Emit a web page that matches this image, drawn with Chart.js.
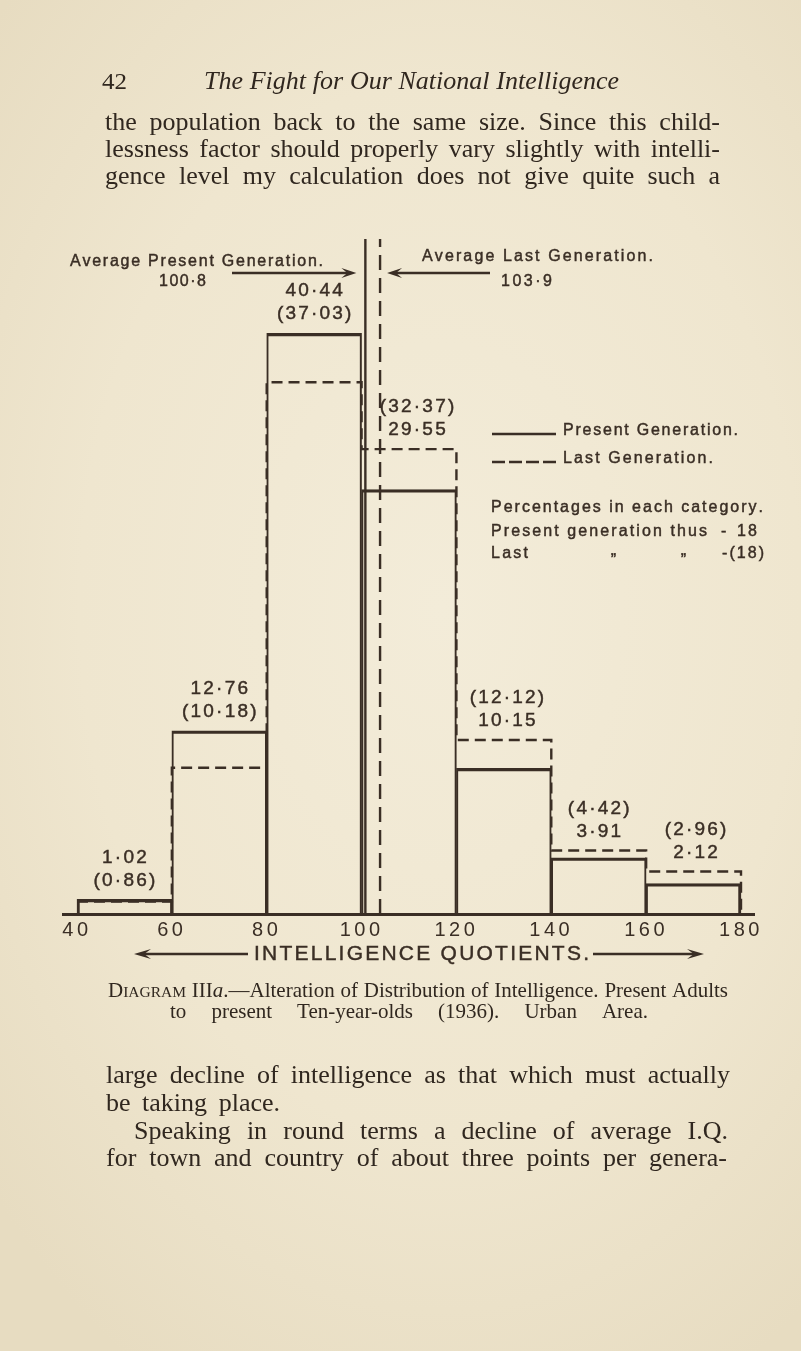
<!DOCTYPE html>
<html><head><meta charset="utf-8">
<script src="https://cdn.jsdelivr.net/npm/chart.js@4.4.1/dist/chart.umd.min.js"></script>
<style>
html,body{margin:0;padding:0;width:801px;height:1351px;overflow:hidden;}
body{background: radial-gradient(ellipse 75% 65% at 55% 45%, #f3ecd9 0%, #efe6cf 60%, #e7dcc1 100%);}
canvas{display:block;}
</style></head><body>
<canvas id="c" width="801" height="1351"></canvas>
<script>
// ---- data ----
const iqBins = [40, 60, 80, 100, 120, 140, 160, 180];          // class edges / tick labels
const presentGeneration = [1.02, 12.76, 40.44, 29.55, 10.15, 3.91, 2.12];
const lastGeneration    = [0.86, 10.18, 37.03, 32.37, 12.12, 4.42, 2.96];
const averagePresent = 100.8;
const averageLast = 103.9;
const seriesNames = ['Present Generation.', 'Last Generation.'];
const averageNames = ['Average Present Generation.', 'Average Last Generation.'];
const axisTitle = 'INTELLIGENCE QUOTIENTS.';
const noteLines = ['Percentages in each category.', 'Present generation thus', 'Last'];

// ---- styling ----
const INK = '#3a2e25';
const TXT = '#30271f';
const yMax = 47;
const SANS = "'Liberation Sans', Arial, sans-serif";
const SERIF = "'Liberation Serif', 'Times New Roman', serif";
const NUM_FONT = '19px ' + SANS;
const LBL_FONT = '16px ' + SANS;
const labelDx = [0, 0, 0, 8, 3, 0, 2];
const fmt = v => v.toFixed(2).replace('.', '·');
const fmt1 = v => v.toFixed(1).replace('.', '·');

function glyph(ctx, c, x, y) {
  ctx.fillText(c, x, y);
  ctx.strokeText(c, x, y);
}
function prep(ctx, font, color) {
  ctx.font = font; ctx.fillStyle = color || INK; ctx.strokeStyle = color || INK;
  ctx.lineWidth = 0.45; ctx.setLineDash([]);
  ctx.textBaseline = 'middle'; ctx.textAlign = 'left';
}
function fitText(ctx, text, x0, x1, yMid, font, color) {
  prep(ctx, font, color);
  const chars = [...text];
  const ws = chars.map(c => ctx.measureText(c).width);
  const W = ws.reduce((a, b) => a + b, 0);
  const ls = chars.length > 1 ? (x1 - x0 - W) / (chars.length - 1) : 0;
  let xx = x0;
  chars.forEach((c, i) => { glyph(ctx, c, xx, yMid); xx += ws[i] + ls; });
}
function spacedCenter(ctx, text, cx, yMid, font, ls, color) {
  prep(ctx, font, color);
  const chars = [...text];
  const ws = chars.map(c => ctx.measureText(c).width);
  const W = ws.reduce((a, b) => a + b, 0) + ls * (chars.length - 1);
  let xx = cx - W / 2;
  chars.forEach((c, i) => { glyph(ctx, c, xx, yMid); xx += ws[i] + ls; });
}
function justify(ctx, words, x0, x1, yBase, baseFont, color) {
  const runsList = words.map(w => typeof w === 'string' ? [[w, baseFont]] : w);
  const widths = runsList.map(runs => runs.reduce((s, [t, f]) => { ctx.font = f; return s + ctx.measureText(t).width; }, 0));
  const sumW = widths.reduce((a, b) => a + b, 0);
  const gaps = words.length - 1;
  ctx.font = baseFont;
  const minGap = ctx.measureText(' ').width * 0.8;
  let gap = gaps ? (x1 - x0 - sumW) / gaps : 0;
  let sx = 1;
  if (gaps && gap < minGap) { gap = minGap; sx = (x1 - x0) / (sumW + minGap * gaps); }
  if (!gaps && sumW > 0) sx = (x1 - x0) / sumW;
  ctx.save(); ctx.translate(x0, yBase); ctx.scale(sx, 1);
  ctx.fillStyle = color || TXT; ctx.textBaseline = 'alphabetic'; ctx.textAlign = 'left';
  let xx = 0;
  runsList.forEach(runs => { runs.forEach(([t, f]) => { ctx.font = f; ctx.fillText(t, xx, 0); xx += ctx.measureText(t).width; }); xx += gap; });
  ctx.restore();
}
function arrow(ctx, xTail, xTip, y, len, half) {
  len = len || 15; half = half || 5;
  const d = Math.sign(xTip - xTail);
  ctx.save(); ctx.strokeStyle = INK; ctx.fillStyle = INK; ctx.lineWidth = 2.4; ctx.setLineDash([]);
  ctx.beginPath(); ctx.moveTo(xTail, y); ctx.lineTo(xTip - d * len * 0.5, y); ctx.stroke();
  ctx.beginPath();
  ctx.moveTo(xTip, y);
  ctx.lineTo(xTip - d * len, y - half);
  ctx.lineTo(xTip - d * len * 0.6, y);
  ctx.lineTo(xTip - d * len, y + half);
  ctx.closePath(); ctx.fill();
  ctx.restore();
}

const tickSpacing = {
  id: 'tickSpacing',
  beforeDraw(chart) { chart.ctx.letterSpacing = '3.5px'; },
  beforeDatasetsDraw(chart) { chart.ctx.letterSpacing = '0px'; }
};

const annotations = {
  id: 'annotations',
  afterDraw(chart) {
    const ctx = chart.ctx; const x = chart.scales.x, y = chart.scales.y;
    ctx.save(); ctx.letterSpacing = '0px';
    // bar value labels
    presentGeneration.forEach((p, i) => {
      const l = lastGeneration[i];
      const cx = (x.getPixelForValue(iqBins[i]) + x.getPixelForValue(iqBins[i + 1])) / 2 + labelDx[i];
      const top = y.getPixelForValue(Math.max(p, l));
      const lines = p >= l ? [fmt(p), '(' + fmt(l) + ')'] : ['(' + fmt(l) + ')', fmt(p)];
      spacedCenter(ctx, lines[0], cx, top - 42, NUM_FONT, 2.2);
      spacedCenter(ctx, lines[1], cx, top - 19, NUM_FONT, 2.2);
    });
    // averages
    const xp = x.getPixelForValue(averagePresent), xl = x.getPixelForValue(averageLast);
    fitText(ctx, averageNames[0], 70, 323, 262, LBL_FONT);
    fitText(ctx, fmt1(averagePresent), 159, 206, 282, LBL_FONT);
    arrow(ctx, 232, xp - 9, 273);
    fitText(ctx, averageNames[1], 422, 653, 257, LBL_FONT);
    fitText(ctx, fmt1(averageLast), 501, 552, 282, LBL_FONT);
    arrow(ctx, 490, xl + 7, 273);
    // legend
    const ds = chart.data.datasets;
    [[ds[0], 434, 431, 738], [ds[1], 462, 459, 713]].forEach(([d, ly, ty, tx1], k) => {
      ctx.save(); ctx.strokeStyle = INK; ctx.lineWidth = 2.4;
      ctx.setLineDash(k === 0 ? [] : [13, 4]);
      ctx.beginPath(); ctx.moveTo(492, ly); ctx.lineTo(556, ly); ctx.stroke(); ctx.restore();
      fitText(ctx, d.label, 563, tx1, ty, LBL_FONT);
    });
    // note
    fitText(ctx, noteLines[0], 491, 763, 508, LBL_FONT);
    fitText(ctx, noteLines[1], 491, 707, 532, LBL_FONT);
    fitText(ctx, '-', 721, 727, 532, LBL_FONT);
    fitText(ctx, '18', 737, 757, 532, LBL_FONT);
    fitText(ctx, noteLines[2], 491, 528, 554, LBL_FONT);
    fitText(ctx, ',,', 610, 617, 551, LBL_FONT);
    fitText(ctx, ',,', 680, 687, 551, LBL_FONT);
    fitText(ctx, '-(18)', 722, 764, 554, LBL_FONT);
    // axis title with arrows
    fitText(ctx, axisTitle, 254, 589, 954, '21px ' + SANS);
    arrow(ctx, 248, 134, 954, 17, 5);
    arrow(ctx, 593, 704, 954, 17, 5);

    // ---- page text ----
    const P = '26px ' + SERIF;
    ctx.fillStyle = TXT; ctx.textBaseline = 'alphabetic';
    justify(ctx, ['42'], 102, 127, 89, '24px ' + SERIF);
    justify(ctx, 'The Fight for Our National Intelligence'.split(' '), 204, 619, 89, 'italic 26px ' + SERIF);
    justify(ctx, 'the population back to the same size. Since this child-'.split(' '), 105, 720, 130, P);
    justify(ctx, 'lessness factor should properly vary slightly with intelli-'.split(' '), 105, 720, 157, P);
    justify(ctx, 'gence level my calculation does not give quite such a'.split(' '), 105, 720, 184, P);

    const C = '21px ' + SERIF, CS = '15.5px ' + SERIF, CI = 'italic 21px ' + SERIF;
    const cap1 = [[['D', C], ['IAGRAM', CS]], [['III', C], ['a', CI], ['.—Alteration', C]]]
      .concat('of Distribution of Intelligence. Present Adults'.split(' '));
    justify(ctx, cap1, 108, 728, 997, C);
    justify(ctx, 'to present Ten-year-olds (1936). Urban Area.'.split(' '), 170, 648, 1018, C);

    justify(ctx, 'large decline of intelligence as that which must actually'.split(' '), 106, 730, 1083, P);
    justify(ctx, 'be taking place.'.split(' '), 106, 280, 1111, P);
    justify(ctx, 'Speaking in round terms a decline of average I.Q.'.split(' '), 134, 728, 1139, P);
    justify(ctx, 'for town and country of about three points per genera-'.split(' '), 106, 727, 1166, P);
    ctx.restore();
  }
};

const mids = presentGeneration.map((v, i) => (iqBins[i] + iqBins[i + 1]) / 2);
new Chart(document.getElementById('c'), {
  type: 'bar',
  data: {
    datasets: [
      {
        type: 'bar', label: seriesNames[0],
        data: presentGeneration.map((v, i) => ({ x: mids[i], y: v })),
        backgroundColor: 'rgba(0,0,0,0)', borderColor: INK,
        borderWidth: c => ({ top: 2.6, bottom: 0, left: c.dataIndex === 0 ? 2.4 : 1.4, right: c.dataIndex === presentGeneration.length - 1 ? 2.4 : 1.4 }),
        borderSkipped: 'start', barPercentage: 1, categoryPercentage: 1, grouped: false, order: 3
      },
      {
        type: 'line', label: seriesNames[1],
        data: iqBins.map((b, i) => ({ x: b, y: i < lastGeneration.length ? lastGeneration[i] : 0 })),
        stepped: 'before', borderColor: INK, borderWidth: 2.4, borderDash: [11, 6],
        pointRadius: 0, fill: false, order: 2
      },
      {
        type: 'line', label: averageNames[0],
        data: [{ x: averagePresent, y: 0 }, { x: averagePresent, y: yMax }],
        borderColor: INK, borderWidth: 2.4, pointRadius: 0, fill: false, order: 1
      },
      {
        type: 'line', label: averageNames[1],
        data: [{ x: averageLast, y: 0 }, { x: averageLast, y: yMax }],
        borderColor: INK, borderWidth: 2.4, borderDash: [15, 8], pointRadius: 0, fill: false, order: 0
      }
    ]
  },
  options: {
    responsive: false, maintainAspectRatio: false, animation: false, devicePixelRatio: 1, events: [],
    layout: { padding: { left: 63, right: 47, top: 239, bottom: 397 } },
    plugins: { legend: { display: false }, tooltip: { enabled: false }, title: { display: false } },
    scales: {
      x: {
        type: 'linear', min: 37.05, max: 182.74, offset: false,
        afterBuildTicks: s => { s.ticks = iqBins.map(v => ({ value: v })); },
        afterFit: s => { s.height = 40; },
        grid: { display: true, color: 'rgba(0,0,0,0)', drawTicks: false, offset: false },
        border: { display: true, color: INK, width: 3 },
        ticks: { color: INK, font: { family: SANS, size: 20, lineHeight: 1.2 }, padding: 4, maxRotation: 0, autoSkip: false }
      },
      y: { type: 'linear', min: 0, max: yMax, display: false }
    }
  },
  plugins: [tickSpacing, annotations]
});
</script>
</body></html>
